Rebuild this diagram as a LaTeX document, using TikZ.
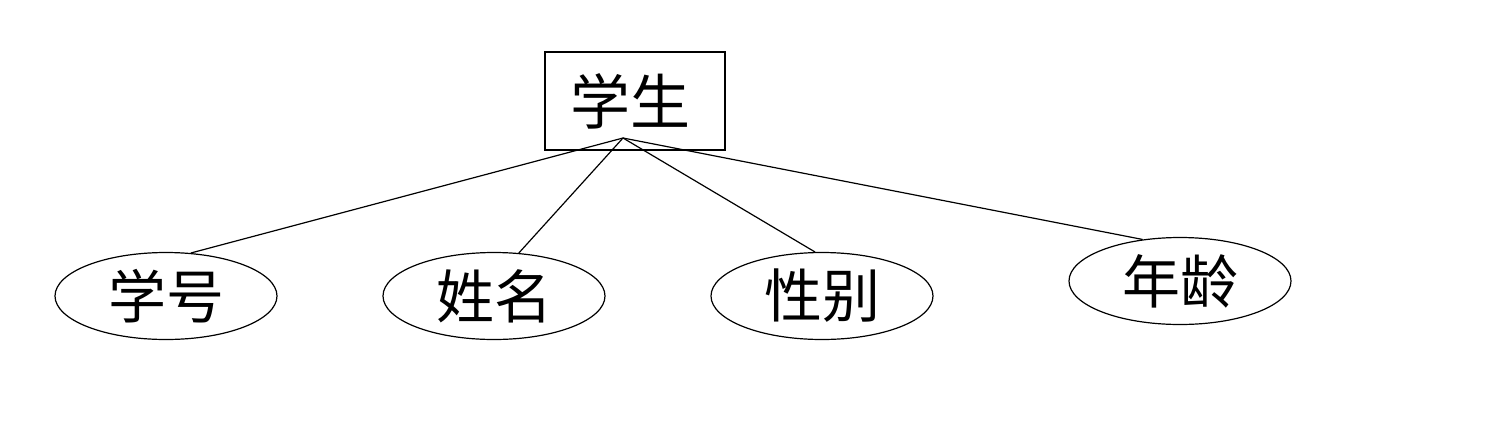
\documentclass[tikz,border=0pt]{standalone}
\usepackage{fontspec}
\newfontfamily\cjk{Noto Sans CJK SC}
\usetikzlibrary{shapes.geometric}

\begin{document}
\begin{tikzpicture}[x=1pt,y=-1pt,
            line width=1.2pt,
            entity/.style = {draw,rectangle,inner sep=0pt,
                minimum width=180pt,minimum height=98pt,
                font=\cjk\fontsize{60}{66}\selectfont},
            attr/.style = {draw,ellipse,inner sep=0pt,
                minimum width=222pt,minimum height=87pt,
                font=\cjk\fontsize{58}{64}\selectfont}]
            \useasboundingbox (0,0) rectangle (1501,426);
            \node[entity](stu) at (635,101) {\makebox[0pt]{\hspace{-10pt}学生}};
            \coordinate (apex) at (623,138);
            \node[attr](sno) at (166,296) {学号};
            \node[attr](sname) at (494,296) {姓名};
            \node[attr](ssex) at (822,296) {性别};
            \node[attr](sage) at (1180,281) {年龄};
            \path[]
                (apex) edge (sno.60)
                (apex) edge (sname.60)
                (apex) edge (ssex.99)
                (apex) edge (sage.132);
        \end{tikzpicture}
\end{document}
